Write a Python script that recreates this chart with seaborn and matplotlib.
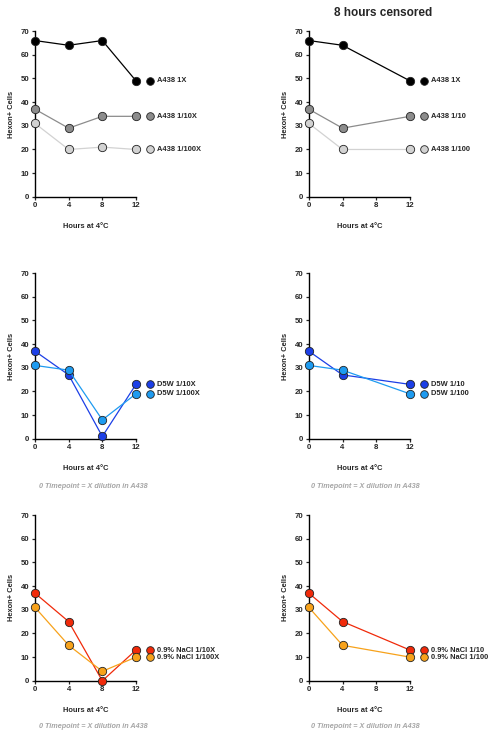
import numpy as np
import pandas as pd
import seaborn as sns
import matplotlib.pyplot as plt

# data
hours_full = [0, 4, 8, 12]
hours_cens = [0, 4, 12]

a438_names_full = ["A438 1X", "A438 1/10X", "A438 1/100X"]
a438_names_cens = ["A438 1X", "A438 1/10", "A438 1/100"]
a438_full = [[66, 64, 66, 49], [37, 29, 34, 34], [31, 20, 21, 20]]
a438_cens = [[66, 64, 49], [37, 29, 34], [31, 20, 20]]
a438_colors = ["#000000", "#8c8c8c", "#d2d2d2"]

d5w_names_full = ["D5W 1/10X", "D5W 1/100X"]
d5w_names_cens = ["D5W 1/10", "D5W 1/100"]
d5w_full = [[37, 27, 1, 23], [31, 29, 8, 19]]
d5w_cens = [[37, 27, 23], [31, 29, 19]]
d5w_colors = ["#1c3fe6", "#1e9bf0"]

nacl_names_full = ["0.9% NaCl 1/10X", "0.9% NaCl 1/100X"]
nacl_names_cens = ["0.9% NaCl 1/10", "0.9% NaCl 1/100"]
nacl_full = [[37, 25, 0, 13], [31, 15, 4, 10]]
nacl_cens = [[37, 25, 13], [31, 15, 10]]
nacl_colors = ["#f02a0a", "#f7a21b"]

caption = "0 Timepoint = X dilution in A438"

sns.set_theme(style="ticks")
plt.rcParams['font.family'] = ['Liberation Sans', 'DejaVu Sans']
plt.rcParams['font.weight'] = 'bold'


def make_df(hours, names, values):
    rows = []
    for name, vals in zip(names, values):
        for h, v in zip(hours, vals):
            rows.append({"hours": h, "cells": v, "group": name})
    return pd.DataFrame(rows)


def panel(ax, hours, names, values, colors):
    df = make_df(hours, names, values)
    sns.lineplot(data=df, x="hours", y="cells", hue="group", hue_order=names,
                 palette=colors, marker="o", markersize=6, linewidth=0.9,
                 markeredgecolor="#222222", markeredgewidth=0.6,
                 legend=False, ax=ax, clip_on=False, zorder=3)
    # legend entries sit next to the last point of each series
    for name, vals, c in zip(names, values, colors):
        ax.plot([13.65], [vals[-1]], marker="o", ms=5.5, color=c, mec="#222222",
                mew=0.6, clip_on=False, ls="none")
        ax.text(14.5, vals[-1], name, fontsize=5.4, fontweight="bold",
                va="center", ha="left")
    ax.set_xlim(0, 12)
    ax.set_ylim(0, 70)
    ax.set_xticks([0, 4, 8, 12])
    ax.set_yticks(range(0, 71, 10))
    ax.tick_params(labelsize=5.6, width=0.9, length=2.5, pad=1.5)
    for lab in ax.get_xticklabels() + ax.get_yticklabels():
        lab.set_fontweight("bold")
    ax.set_xlabel("Hours at 4°C", fontsize=5.4, fontweight="bold", labelpad=10)
    ax.set_ylabel("Hexon+ Cells", fontsize=5.4, fontweight="bold", labelpad=4)
    for s in ["left", "bottom"]:
        ax.spines[s].set_linewidth(1.0)
        ax.spines[s].set_color("black")
    sns.despine(ax=ax)


fig = plt.figure(figsize=(4.95, 7.4), dpi=100)
w = 0.204
h = 0.224
lefts = [0.0707, 0.624]
bottoms = [0.734, 0.407, 0.080]

panels = [
    (hours_full, a438_names_full, a438_full, a438_colors),
    (hours_cens, a438_names_cens, a438_cens, a438_colors),
    (hours_full, d5w_names_full, d5w_full, d5w_colors),
    (hours_cens, d5w_names_cens, d5w_cens, d5w_colors),
    (hours_full, nacl_names_full, nacl_full, nacl_colors),
    (hours_cens, nacl_names_cens, nacl_cens, nacl_colors),
]

for i, (hrs, names, vals, cols) in enumerate(panels):
    ax = fig.add_axes([lefts[i % 2], bottoms[i // 2], w, h])
    panel(ax, hrs, names, vals, cols)

fig.text(383 / 495, 1 - 13 / 740, "8 hours censored", fontsize=8.5,
         fontweight="bold", ha="center", va="center")

for x in [93, 365]:
    for y in [486, 727]:
        fig.text(x / 495, 1 - y / 740, caption, fontsize=5.2, color="#a6a6a6",
                 fontweight="bold", style="italic", ha="center", va="center")

fig.savefig("out.png", dpi=100)
